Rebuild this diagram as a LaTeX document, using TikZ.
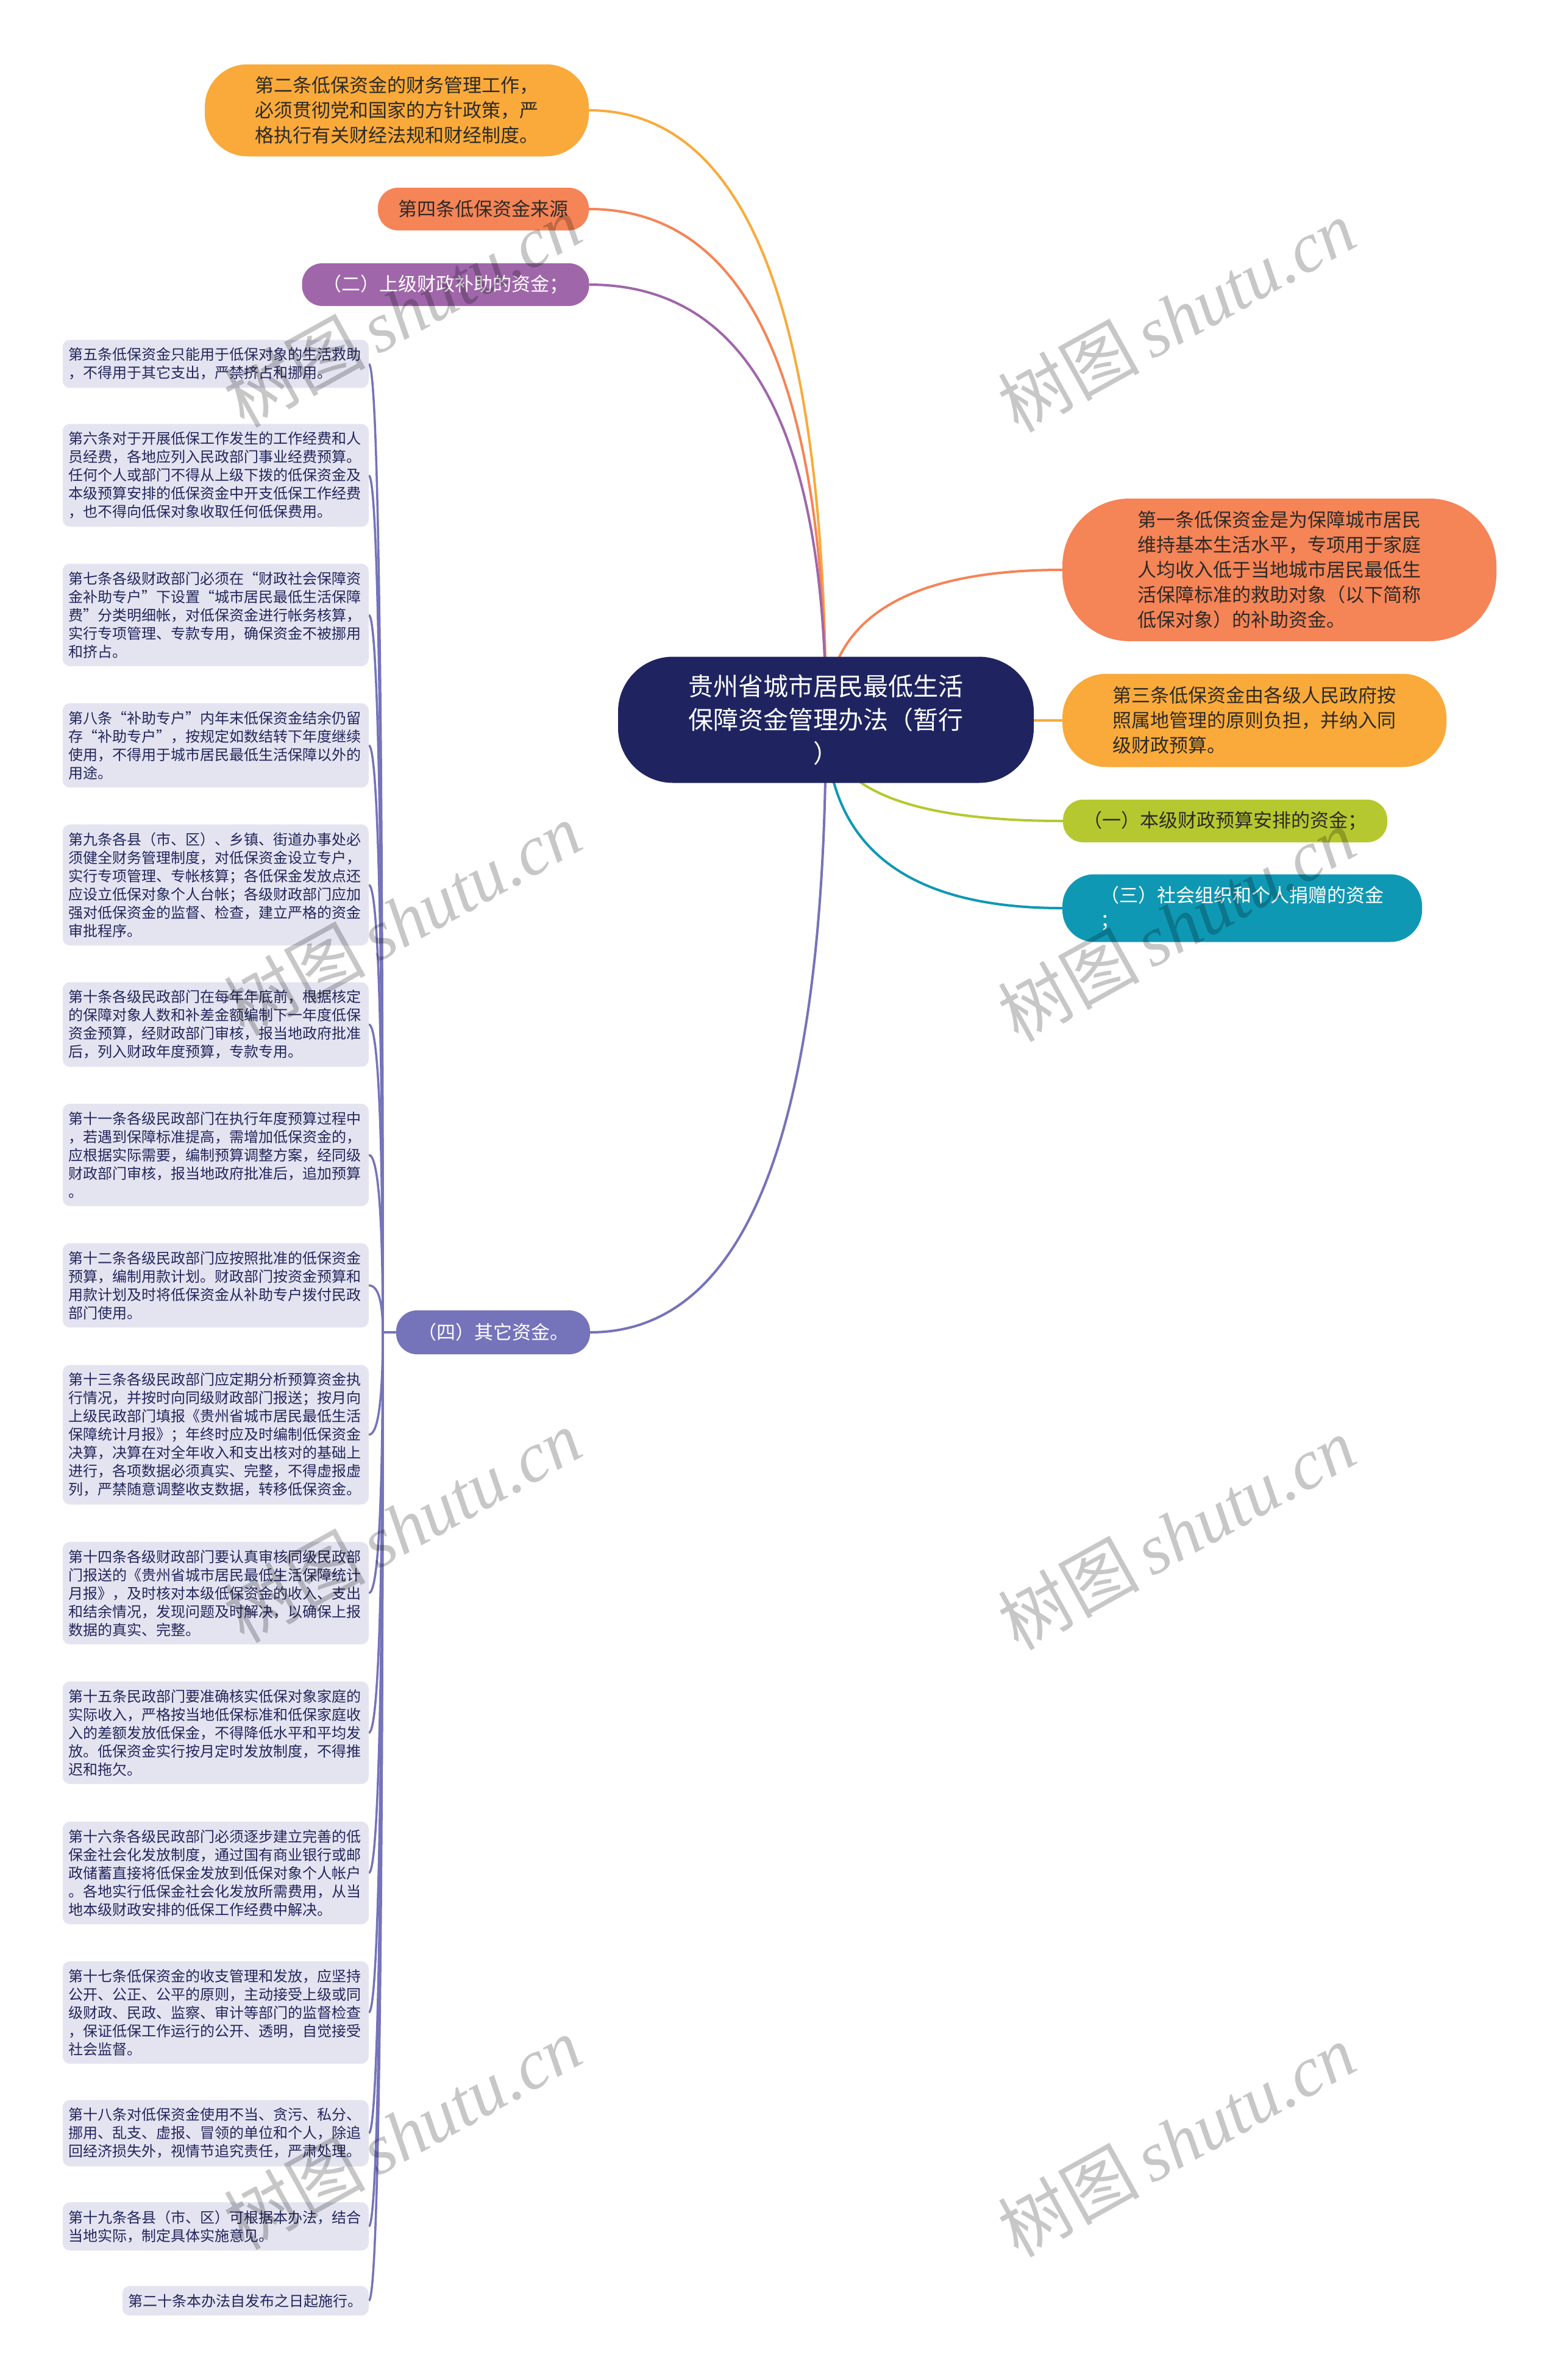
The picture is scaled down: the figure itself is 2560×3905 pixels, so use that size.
\documentclass[tikz,border=0pt]{standalone}
\usepackage{fontspec}
\setmainfont{Noto Sans CJK SC}
\newfontfamily\wmlatin{Liberation Serif}
\usetikzlibrary{calc}
\pgfdeclarelayer{bg}
\pgfsetlayers{bg,main}
\definecolor{cNavy}{HTML}{1F2461}
\definecolor{cOrange}{HTML}{F9AA3A}
\definecolor{cCoral}{HTML}{F58457}
\definecolor{cPurple}{HTML}{A066AA}
\definecolor{cGreen}{HTML}{B6C82F}
\definecolor{cTeal}{HTML}{0F98B4}
\definecolor{cViolet}{HTML}{7573BA}
\definecolor{cLeaf}{HTML}{E4E4F1}
\definecolor{cLeafText}{HTML}{23265C}
\definecolor{cDark}{HTML}{2E2A26}
\newcommand\mmcurve[3]{%
  \coordinate (mmc) at (#2 |- #3);
  \draw[#1] (#2) .. controls ($(#2)!0.6667!(mmc)$) and ($(#3)!0.6667!(mmc)$) .. (#3);
}
\tikzset{
  topbox/.style={inner sep=0pt, align=center, font=\fontsize{31}{41}\selectfont},
  multibox/.style={inner xsep=0pt, inner ysep=0pt, align=left, text width=465pt, font=\fontsize{31}{41}\selectfont},
  leaf/.style={fill=cLeaf, rounded corners=12pt, text=cLeafText, font=\fontsize{24}{30}\selectfont,
    align=left, text width=482pt, inner xsep=10pt, inner ysep=13pt, anchor=east},
  branch/.style={line width=4pt},
  leafline/.style={line width=3.5pt, cViolet},
  wm/.style={rotate=29, text=black, text opacity=0.22, font=\fontsize{116}{116}\selectfont, inner sep=0pt}
}
\begin{document}
\begin{tikzpicture}[x=1pt, y=-1pt]
\useasboundingbox (0,0) rectangle (2560,3905);
\begin{pgfonlayer}{bg}
\fill[white] (0,0) rectangle (2560,3905);
\end{pgfonlayer}

% root
\node[topbox, fill=cNavy, text=white, minimum width=682pt, minimum height=207pt,
  rounded corners=90pt, font=\fontsize{41}{55}\selectfont] (root) at (1355,1181)
  {贵州省城市居民最低生活\\保障资金管理办法（暂行\\）};

% left side top-level
\node[multibox, fill=cOrange, text=cDark, minimum width=630pt, minimum height=151pt,
  rounded corners=70pt] (two) at (651,181)
  {第二条低保资金的财务管理工作，\\必须贯彻党和国家的方针政策，严\\格执行有关财经法规和财经制度。};
\node[topbox, fill=cCoral, text=cDark, minimum width=346pt, minimum height=70pt,
  rounded corners=33pt] (four) at (793,343) {第四条低保资金来源};
\node[topbox, fill=cPurple, text=white, minimum width=471pt, minimum height=70pt,
  rounded corners=33pt] (er) at (731,467) {（二）上级财政补助的资金；};
\node[topbox, fill=cViolet, text=white, minimum width=318pt, minimum height=72pt,
  rounded corners=34pt] (si) at (809,2186) {（四）其它资金。};

% right side top-level
\node[multibox, fill=cCoral, text=cDark, minimum width=712pt, minimum height=234pt,
  rounded corners=110pt] (one) at (2099,935)
  {第一条低保资金是为保障城市居民\\维持基本生活水平，专项用于家庭\\人均收入低于当地城市居民最低生\\活保障标准的救助对象（以下简称\\低保对象）的补助资金。};
\node[multibox, fill=cOrange, text=cDark, minimum width=630pt, minimum height=153pt,
  rounded corners=72pt] (three) at (2058,1182)
  {第三条低保资金由各级人民政府按\\照属地管理的原则负担，并纳入同\\级财政预算。};
\node[topbox, fill=cGreen, text=cDark, minimum width=532pt, minimum height=70pt,
  rounded corners=33pt] (yi) at (2010,1347) {（一）本级财政预算安排的资金；};
\node[multibox, fill=cTeal, text=white, minimum width=590pt, minimum height=111pt,
  rounded corners=52pt] (san) at (2038,1490) {（三）社会组织和个人捐赠的资金\\；};

% leaves
\node[leaf] (l5) at (605,597) {第五条低保资金只能用于低保对象的生活救助\\，不得用于其它支出，严禁挤占和挪用。};
\node[leaf] (l6) at (605,780) {第六条对于开展低保工作发生的工作经费和人\\员经费，各地应列入民政部门事业经费预算。\\任何个人或部门不得从上级下拨的低保资金及\\本级预算安排的低保资金中开支低保工作经费\\，也不得向低保对象收取任何低保费用。};
\node[leaf] (l7) at (605,1009) {第七条各级财政部门必须在“财政社会保障资\\金补助专户”下设置“城市居民最低生活保障\\费”分类明细帐，对低保资金进行帐务核算，\\实行专项管理、专款专用，确保资金不被挪用\\和挤占。};
\node[leaf] (l8) at (605,1223) {第八条“补助专户”内年末低保资金结余仍留\\存“补助专户”，按规定如数结转下年度继续\\使用，不得用于城市居民最低生活保障以外的\\用途。};
\node[leaf] (l9) at (605,1452) {第九条各县（市、区）、乡镇、街道办事处必\\须健全财务管理制度，对低保资金设立专户，\\实行专项管理、专帐核算；各低保金发放点还\\应设立低保对象个人台帐；各级财政部门应加\\强对低保资金的监督、检查，建立严格的资金\\审批程序。};
\node[leaf] (l10) at (605,1681) {第十条各级民政部门在每年年底前，根据核定\\的保障对象人数和补差金额编制下一年度低保\\资金预算，经财政部门审核，报当地政府批准\\后，列入财政年度预算，专款专用。};
\node[leaf] (l11) at (605,1895) {第十一条各级民政部门在执行年度预算过程中\\，若遇到保障标准提高，需增加低保资金的，\\应根据实际需要，编制预算调整方案，经同级\\财政部门审核，报当地政府批准后，追加预算\\。};
\node[leaf] (l12) at (605,2109) {第十二条各级民政部门应按照批准的低保资金\\预算，编制用款计划。财政部门按资金预算和\\用款计划及时将低保资金从补助专户拨付民政\\部门使用。};
\node[leaf] (l13) at (605,2354) {第十三条各级民政部门应定期分析预算资金执\\行情况，并按时向同级财政部门报送；按月向\\上级民政部门填报《贵州省城市居民最低生活\\保障统计月报》；年终时应及时编制低保资金\\决算，决算在对全年收入和支出核对的基础上\\进行，各项数据必须真实、完整，不得虚报虚\\列，严禁随意调整收支数据，转移低保资金。};
\node[leaf] (l14) at (605,2614) {第十四条各级财政部门要认真审核同级民政部\\门报送的《贵州省城市居民最低生活保障统计\\月报》，及时核对本级低保资金的收入、支出\\和结余情况，发现问题及时解决，以确保上报\\数据的真实、完整。};
\node[leaf] (l15) at (605,2843) {第十五条民政部门要准确核实低保对象家庭的\\实际收入，严格按当地低保标准和低保家庭收\\入的差额发放低保金，不得降低水平和平均发\\放。低保资金实行按月定时发放制度，不得推\\迟和拖欠。};
\node[leaf] (l16) at (605,3073) {第十六条各级民政部门必须逐步建立完善的低\\保金社会化发放制度，通过国有商业银行或邮\\政储蓄直接将低保金发放到低保对象个人帐户\\。各地实行低保金社会化发放所需费用，从当\\地本级财政安排的低保工作经费中解决。};
\node[leaf] (l17) at (605,3302) {第十七条低保资金的收支管理和发放，应坚持\\公开、公正、公平的原则，主动接受上级或同\\级财政、民政、监察、审计等部门的监督检查\\，保证低保工作运行的公开、透明，自觉接受\\社会监督。};
\node[leaf] (l18) at (605,3500) {第十八条对低保资金使用不当、贪污、私分、\\挪用、乱支、虚报、冒领的单位和个人，除追\\回经济损失外，视情节追究责任，严肃处理。};
\node[leaf] (l19) at (605,3653) {第十九条各县（市、区）可根据本办法，结合\\当地实际，制定具体实施意见。};
\node[leaf, text width=] (l20) at (605,3775) {第二十条本办法自发布之日起施行。};

\coordinate (trunk) at (628,2186);

\begin{pgfonlayer}{bg}
\mmcurve{branch, cOrange}{root.center}{two.east}
\mmcurve{branch, cCoral}{root.center}{four.east}
\mmcurve{branch, cPurple}{root.center}{er.east}
\mmcurve{branch, cViolet}{root.center}{si.east}
\mmcurve{branch, cCoral}{root.center}{one.west}
\mmcurve{branch, cOrange}{root.center}{three.west}
\mmcurve{branch, cGreen}{root.center}{yi.west}
\mmcurve{branch, cTeal}{root.center}{san.west}
\draw[leafline] (si.west) -- (trunk);
\foreach \l in {l5,l6,l7,l8,l9,l10,l11,l12,l13,l14,l15,l16,l17,l18,l19,l20}{
  \mmcurve{leafline}{trunk}{\l.east}
}
\end{pgfonlayer}

% watermarks
\foreach \wx/\wy in {660/510, 1930/518, 660/1507, 1930/1517, 660/2503, 1930/2515, 660/3499, 1930/3511}{
  \node[wm] (wm-\wx-\wy) at (\wx,\wy) {树图\,{\wmlatin\itshape shutu.cn}};
}
\end{tikzpicture}
\end{document}
